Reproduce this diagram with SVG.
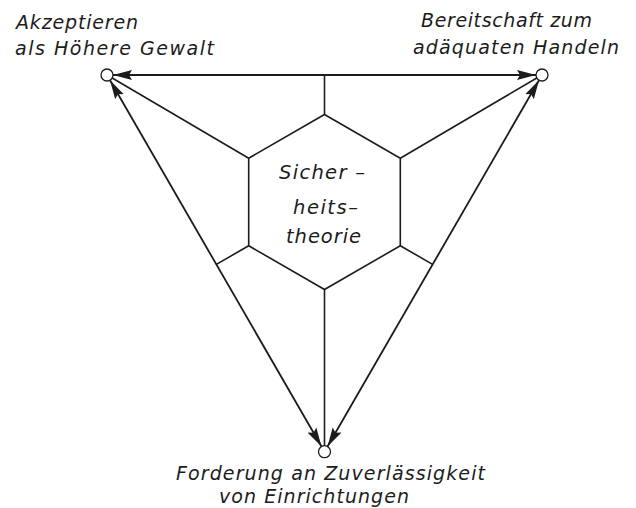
<svg xmlns="http://www.w3.org/2000/svg" width="636" height="508" viewBox="0 0 636 508">
  <style>
    .edge { stroke: #1c1c1c; stroke-width: 1.8; fill: none; }
    .spoke { stroke: #1c1c1c; stroke-width: 1.6; fill: none; }
    .node { fill: #ffffff; stroke: #1c1c1c; stroke-width: 1.3; }
    .lbl { font-family: "DejaVu Sans", "Liberation Sans", sans-serif; font-style: oblique; font-size: 19px; fill: #1c1c1c; }
    .ctr { font-size: 19.5px; }
  </style>
  <defs>
    <marker id="arr" markerUnits="userSpaceOnUse" markerWidth="20" markerHeight="11" refX="19" refY="5.5" orient="auto-start-reverse" viewBox="0 0 20 11">
      <path d="M0,0.5 L19,5.5 L0,10.5 L3,5.5 Z" fill="#1c1c1c"/>
    </marker>
  </defs>
  <rect width="636" height="508" fill="#ffffff"/>

  <g id="connectors">
    <line class="edge" x1="113" y1="75" x2="536" y2="75" marker-start="url(#arr)" marker-end="url(#arr)"/>
    <line class="edge" x1="110" y1="80.2" x2="321.5" y2="446.5" marker-start="url(#arr)" marker-end="url(#arr)"/>
    <line class="edge" x1="539" y1="80.2" x2="327.5" y2="446.5" marker-start="url(#arr)" marker-end="url(#arr)"/>
    <line class="spoke" x1="324.5" y1="114.5" x2="324.5" y2="75"/>
    <line class="spoke" x1="324.5" y1="289.5" x2="324.5" y2="445.7"/>
    <line class="spoke" x1="248.7" y1="158.25" x2="112.2" y2="78"/>
    <line class="spoke" x1="400.3" y1="158.25" x2="536.8" y2="78"/>
    <line class="spoke" x1="248.7" y1="245.75" x2="216.4" y2="264.4"/>
    <line class="spoke" x1="400.3" y1="245.75" x2="432.6" y2="264.4"/>
  </g>

  <g id="theory">
    <polygon class="spoke" points="324.5,114.5 400.3,158.25 400.3,245.75 324.5,289.5 248.7,245.75 248.7,158.25"/>
    <text class="lbl ctr" x="279" y="179" textLength="86" lengthAdjust="spacing">Sicher –</text>
    <text class="lbl ctr" x="293" y="214" textLength="65" lengthAdjust="spacing">heits–</text>
    <text class="lbl ctr" x="286" y="243" textLength="75" lengthAdjust="spacing">theorie</text>
  </g>

  <g id="node-accept">
    <circle class="node" cx="107" cy="75" r="6"/>
    <text class="lbl" x="16" y="29" textLength="122" lengthAdjust="spacing">Akzeptieren</text>
    <text class="lbl" x="15" y="55" textLength="199" lengthAdjust="spacing">als Höhere Gewalt</text>
  </g>

  <g id="node-ready">
    <circle class="node" cx="542" cy="75" r="6"/>
    <text class="lbl" x="421" y="27" textLength="171" lengthAdjust="spacing">Bereitschaft zum</text>
    <text class="lbl" x="413" y="54" textLength="206" lengthAdjust="spacing">adäquaten Handeln</text>
  </g>

  <g id="node-demand">
    <circle class="node" cx="324.5" cy="451.7" r="6"/>
    <text class="lbl" x="176" y="480" textLength="309" lengthAdjust="spacing">Forderung an Zuverlässigkeit</text>
    <text class="lbl" x="219" y="503" textLength="190" lengthAdjust="spacing">von Einrichtungen</text>
  </g>
</svg>
